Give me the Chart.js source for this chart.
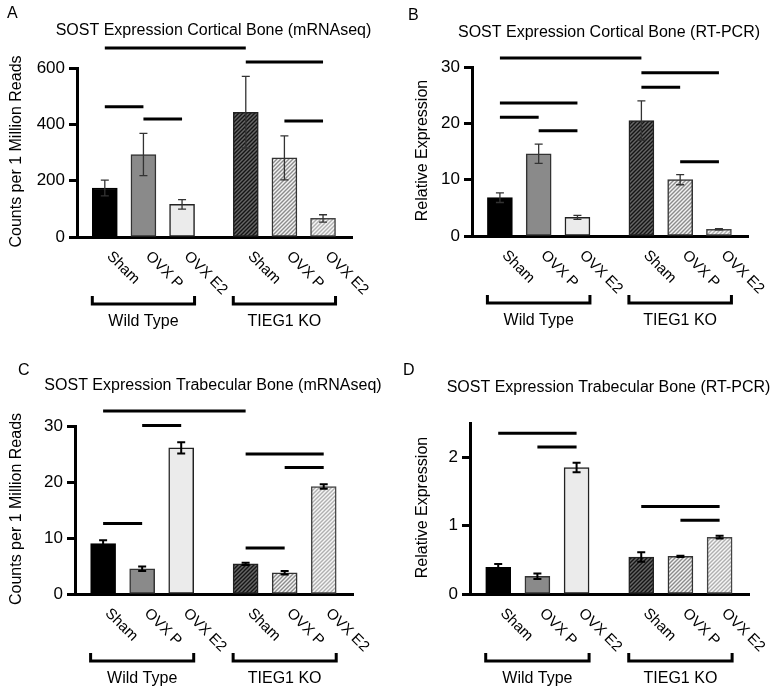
<!DOCTYPE html>
<html>
<head>
<meta charset="utf-8">
<script src="https://cdn.jsdelivr.net/npm/chart.js@4.4.0/dist/chart.umd.min.js"></script>
<style>
html, body { margin: 0; padding: 0; background: #fff; }
#wrap { position: relative; width: 779px; height: 695px; }
canvas { position: absolute; }
</style>
</head>
<body>
<div id="wrap">
  <canvas id="pA" width="390" height="347" style="left:0;top:0"></canvas>
  <canvas id="pB" width="389" height="347" style="left:390px;top:0"></canvas>
  <canvas id="pC" width="390" height="348" style="left:0;top:347px"></canvas>
  <canvas id="pD" width="389" height="348" style="left:390px;top:347px"></canvas>
</div>
<script>
// categories (same for every panel)
const barLabels = ['Sham', 'OVX P', 'OVX E2', 'Sham', 'OVX P', 'OVX E2'];
const barPos = [0, 1, 2, 3.65, 4.65, 5.65];
const groupNames = ['Wild Type', 'TIEG1 KO'];

// A - cortical, mRNAseq
const aValues = [174, 293, 116, 443, 281, 66];
const aErrors = [28, 75, 17, 127, 78, 13];
const aSig = [[0, 3, 671], [3, 5, 621], [0, 1, 462], [1, 2, 419], [4, 5, 412]];

// B - cortical, RT-PCR
const bValues = [6.8, 14.6, 3.3, 20.5, 10.0, 1.2];
const bErrors = [0.85, 1.7, 0.35, 3.5, 0.9, 0.1];
const bSig = [[0, 3, 31.6], [3, 5, 29.0], [3, 4, 26.4], [0, 2, 23.6], [0, 1, 21.1], [1, 2, 18.7], [4, 5, 13.2]];

// C - trabecular, mRNAseq
const cValues = [9.0, 4.5, 26.1, 5.4, 3.8, 19.2];
const cErrors = [0.6, 0.4, 1.0, 0.2, 0.3, 0.4];
const cSig = [[0, 3, 32.7], [1, 2, 30.1], [3, 5, 25.0], [4, 5, 22.6], [0, 1, 12.6], [3, 4, 8.2]];

// D - trabecular, RT-PCR
const dValues = [0.39, 0.26, 1.85, 0.54, 0.55, 0.83];
const dErrors = [0.05, 0.04, 0.07, 0.07, 0.01, 0.02];
const dSig = [[0, 2, 2.35], [1, 2, 2.15], [3, 5, 1.28], [4, 5, 1.08]];

const FONT = "'Liberation Sans', Arial, sans-serif";

function hatch(bg, fg) {
    const c = document.createElement('canvas');
    c.width = 4; c.height = 4;
    const g = c.getContext('2d');
    g.fillStyle = bg;
    g.fillRect(0, 0, 4, 4);
    g.strokeStyle = fg;
    g.lineWidth = 1.4;
    g.beginPath();
    g.moveTo(-1, 5); g.lineTo(5, -1);
    g.moveTo(-1, 1); g.lineTo(1, -1);
    g.moveTo(3, 5); g.lineTo(5, 3);
    g.stroke();
    return g.createPattern(c, 'repeat');
}

const fills = ['#000000', '#8a8a8a', '#ebebeb',
    hatch('#666666', '#151515'), hatch('#f2f2f2', '#8c8c8c'), hatch('#f6f6f6', '#b0b0b0')];
const borders = ['#000', '#333', '#222', '#222', '#333', '#444'];

const extras = {
    id: 'extras',
    afterDatasetsDraw(chart, args, o) {
        const ctx = chart.ctx, y = chart.scales.y;
        const bars = chart.getDatasetMeta(0).data;
        ctx.save();
        // error bars
        ctx.strokeStyle = o.errColor;
        ctx.lineWidth = o.errWidth;
        o.values.forEach((v, i) => {
            const cx = bars[i].x;
            const top = y.getPixelForValue(v + o.errors[i]);
            const bot = y.getPixelForValue(v - o.errors[i]);
            ctx.beginPath();
            ctx.moveTo(cx, top); ctx.lineTo(cx, bot);
            ctx.moveTo(cx - 4, top); ctx.lineTo(cx + 4, top);
            ctx.moveTo(cx - 4, bot); ctx.lineTo(cx + 4, bot);
            ctx.stroke();
        });
        // significance lines
        ctx.strokeStyle = '#000';
        ctx.lineWidth = 3;
        o.sig.forEach(([a, b, v]) => {
            const py = y.getPixelForValue(v);
            ctx.beginPath();
            ctx.moveTo(bars[a].x, py);
            ctx.lineTo(bars[b].x, py);
            ctx.stroke();
        });
        ctx.restore();
    },
    afterDraw(chart, args, o) {
        const ctx = chart.ctx, area = chart.chartArea;
        const bars = chart.getDatasetMeta(0).data;
        ctx.save();
        ctx.fillStyle = '#000';
        // panel letter
        ctx.font = '16px ' + FONT;
        ctx.textAlign = 'left';
        ctx.textBaseline = 'alphabetic';
        ctx.fillText(o.letter, o.letterX, o.letterY);
        // title
        ctx.textAlign = 'center';
        ctx.fillText(o.title, (area.left + area.right) / 2 - 1, o.titleY);
        // y title
        ctx.save();
        ctx.translate(o.yTitleX, (area.top + area.bottom) / 2 - 1);
        ctx.rotate(-Math.PI / 2);
        ctx.textBaseline = 'middle';
        ctx.fillText(o.yTitle, 0, 0);
        ctx.restore();
        // rotated category labels
        ctx.font = '15px ' + FONT;
        ctx.textAlign = 'left';
        ctx.textBaseline = 'alphabetic';
        barLabels.forEach((lab, i) => {
            ctx.save();
            ctx.translate(bars[i].x + 1.5, area.bottom + 20);
            ctx.rotate(Math.PI / 4);
            ctx.fillText(lab, 0, 0);
            ctx.restore();
        });
        // group brackets
        ctx.strokeStyle = '#000';
        ctx.lineWidth = 3;
        ctx.font = '16px ' + FONT;
        ctx.textAlign = 'center';
        const by = area.bottom + 67;
        groupNames.forEach((name, g) => {
            const first = bars[g * 3], last = bars[g * 3 + 2];
            const x1 = first.x - first.width / 2, x2 = last.x + last.width / 2;
            ctx.beginPath();
            ctx.moveTo(x1, by - 8); ctx.lineTo(x1, by); ctx.lineTo(x2, by); ctx.lineTo(x2, by - 8);
            ctx.stroke();
            ctx.fillText(name, (x1 + x2) / 2, area.bottom + 89);
        });
        ctx.restore();
    }
};

function makePanel(id, area, panel) {
    const cv = document.getElementById(id);
    new Chart(cv, {
        type: 'bar',
        data: {
            datasets: [{
                data: barPos.map((x, i) => ({ x: x, y: panel.values[i] })),
                backgroundColor: fills,
                borderColor: borders,
                borderWidth: 1.5,
                borderSkipped: false,
                barThickness: 25
            }]
        },
        options: {
            responsive: false,
            animation: false,
            layout: { padding: { left: 0, top: area.top, right: cv.width - area.right, bottom: cv.height - area.bottom } },
            plugins: {
                legend: { display: false },
                tooltip: { enabled: false },
                extras: panel
            },
            scales: {
                x: {
                    type: 'linear', min: -0.72, max: 6.4, offset: false, z: 1,
                    grid: { display: false, offset: false },
                    ticks: { display: false },
                    border: { color: '#000', width: 3 },
                    afterFit: s => { s.height = 0; }
                },
                y: {
                    min: 0, max: panel.yMax, z: 1,
                    ticks: { stepSize: panel.yStep, includeBounds: false, color: '#000', padding: 4,
                        font: { family: FONT, size: 17 } },
                    grid: { drawOnChartArea: false, tickLength: 8, tickWidth: 3, tickColor: '#000' },
                    border: { color: '#000', width: 3 },
                    afterFit: s => { s.width = area.left; }
                }
            }
        },
        plugins: [extras]
    });
}

makePanel('pA', { left: 77, right: 352, top: 68, bottom: 237 }, {
    letter: 'A', letterX: 7, letterY: 18, title: 'SOST Expression Cortical Bone (mRNAseq)', titleY: 35,
    yTitle: 'Counts per 1 Million Reads', yTitleX: 17, yMax: 600, yStep: 200,
    values: aValues, errors: aErrors, sig: aSig, errColor: '#333', errWidth: 1.3
});
makePanel('pB', { left: 82, right: 358, top: 67, bottom: 236 }, {
    letter: 'B', letterX: 18, letterY: 20, title: 'SOST Expression Cortical Bone (RT-PCR)', titleY: 37,
    yTitle: 'Relative Expression', yTitleX: 33, yMax: 30, yStep: 10,
    values: bValues, errors: bErrors, sig: bSig, errColor: '#333', errWidth: 1.3
});
makePanel('pC', { left: 75, right: 353, top: 79, bottom: 247 }, {
    letter: 'C', letterX: 18, letterY: 28, title: 'SOST Expression Trabecular Bone (mRNAseq)', titleY: 43,
    yTitle: 'Counts per 1 Million Reads', yTitleX: 17, yMax: 30, yStep: 10,
    values: cValues, errors: cErrors, sig: cSig, errColor: '#000', errWidth: 2
});
makePanel('pD', { left: 80, right: 359, top: 76, bottom: 247 }, {
    letter: 'D', letterX: 13, letterY: 28, title: 'SOST Expression Trabecular Bone (RT-PCR)', titleY: 45,
    yTitle: 'Relative Expression', yTitleX: 33, yMax: 2.5, yStep: 1,
    values: dValues, errors: dErrors, sig: dSig, errColor: '#000', errWidth: 2
});
</script>
</body>
</html>
